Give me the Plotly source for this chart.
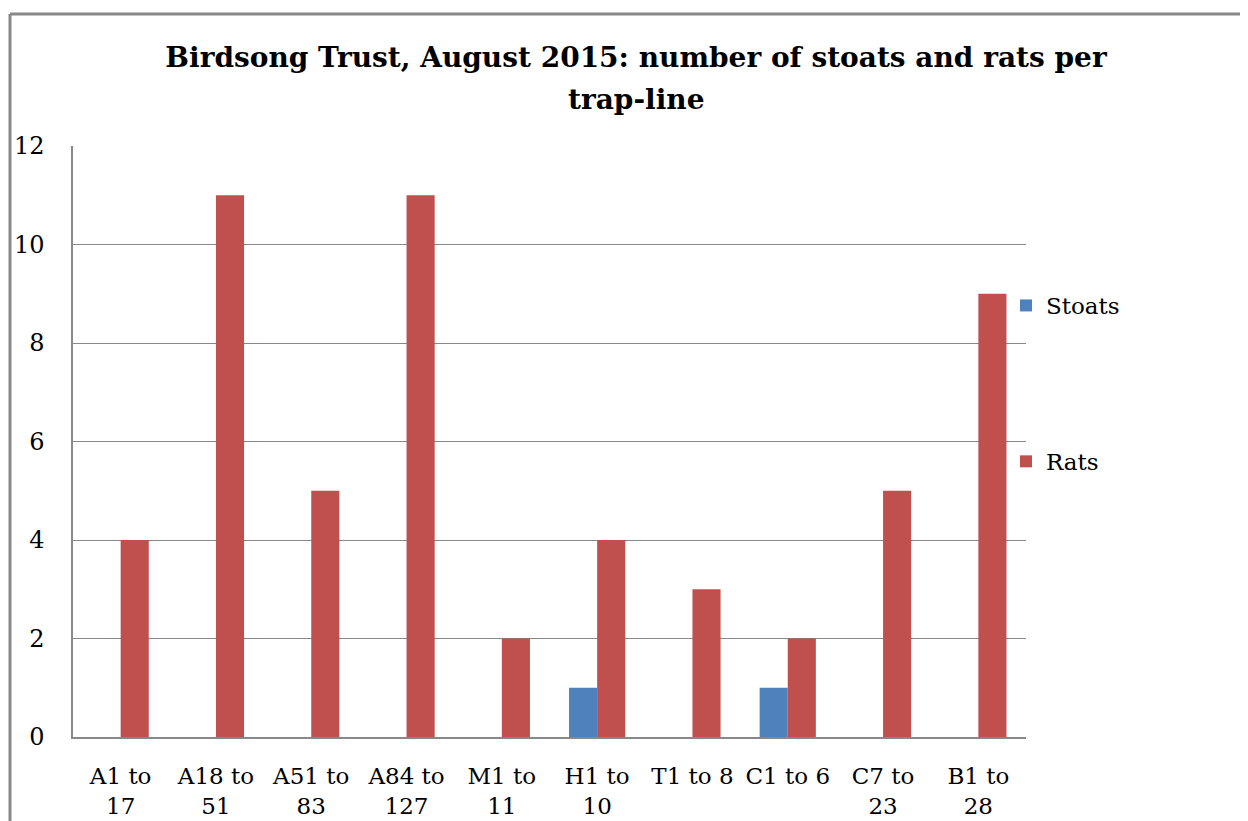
import plotly.graph_objects as go

categories = ["A1 to<br>17", "A18 to<br>51", "A51 to<br>83", "A84 to<br>127", "M1 to<br>11",
              "H1 to<br>10", "T1 to 8", "C1 to 6", "C7 to<br>23", "B1 to<br>28"]
stoats = [0, 0, 0, 0, 0, 1, 0, 1, 0, 0]
rats = [4, 11, 5, 11, 2, 4, 3, 2, 5, 9]
y_ticks = [0, 2, 4, 6, 8, 10, 12]
title_line1 = "Birdsong Trust, August 2015: number of stoats and rats per"
title_line2 = "trap-line"

FONT = "DejaVu Serif"
OFF = 8  # browser body margin
W, H = 1248 - OFF, 821 - OFF
L, R, T, B = 73 - OFF, 1026 - OFF, 146 - OFF, 737 - OFF
pw, ph = R - L, B - T

def px(xp):
    return (xp - OFF - L) / pw

def py(yp):
    return (B - (yp - OFF)) / ph

fig = go.Figure()
fig.add_trace(go.Bar(name="Stoats", x=categories, y=stoats, marker_color="#4F81BD",
                     marker_line_width=0, legendgroup="s"))
fig.add_trace(go.Bar(name="Rats", x=categories, y=rats, marker_color="#C0504D",
                     marker_line_width=0, legendgroup="r"))

fig.update_layout(
    width=W, height=H,
    margin=dict(l=L, r=W - R, t=T, b=H - B, autoexpand=False),
    paper_bgcolor="white", plot_bgcolor="white",
    barmode="group", bargap=0.41, bargroupgap=0,
    font=dict(family=FONT, size=23, color="black"),
    title=dict(text="<b>" + title_line1 + "</b>",
               x=(636 - OFF) / W, xanchor="center", y=1 - (57 - OFF) / H, yanchor="middle",
               font=dict(family=FONT, size=28, color="black")),
    annotations=[
        dict(text="<b>" + title_line2 + "</b>", xref="paper", yref="paper",
             x=px(636), y=py(100), xanchor="center", yanchor="middle", showarrow=False,
             font=dict(family=FONT, size=28, color="black")),
    ],
    legend=dict(x=px(1006), xanchor="left", y=py(284), yanchor="top",
                tracegroupgap=123, traceorder="grouped",
                font=dict(family=FONT, size=23), bgcolor="rgba(0,0,0,0)"),
    xaxis=dict(showgrid=False, showline=True, linecolor="#888888", linewidth=1.5,
               ticks="", tickfont=dict(family=FONT, size=23), ticklabelstandoff=18),
    yaxis=dict(range=[0, 12], tickvals=y_ticks, showgrid=True, gridcolor="#888888",
               gridwidth=1, showline=True, linecolor="#888888", linewidth=1.5,
               zeroline=False, ticks="", tickfont=dict(family=FONT, size=24),
               ticklabelstandoff=22),
    shapes=[
        dict(type="line", xref="paper", yref="paper", x0=px(10), x1=px(10),
             y0=py(830), y1=py(14), line=dict(color="#888888", width=3)),
        dict(type="line", xref="paper", yref="paper", x0=px(10), x1=px(1260),
             y0=py(14), y1=py(14), line=dict(color="#888888", width=3)),
    ],
)

fig.write_html("out.html")
